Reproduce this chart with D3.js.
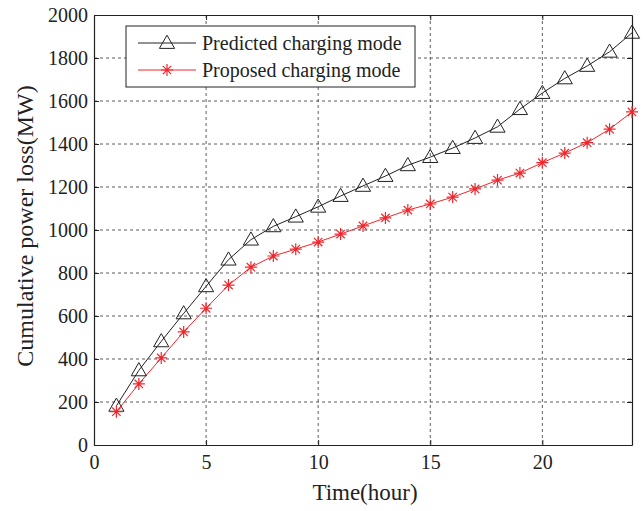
<!DOCTYPE html>
<html lang="en">
<head>
    <meta charset="UTF-8">
    <title>cumulative-power-loss</title>
    <script src="https://cdn.jsdelivr.net/npm/d3@7/dist/d3.min.js"></script>
    <style>
        body { margin: 0; background: #fff; }
        text { font-family: "Liberation Serif", "Times New Roman", serif; fill: #222; }
    </style>
</head>
<body>
    <svg class="chart"></svg>
</body>
<script>
    // data
    var hours = [1, 2, 3, 4, 5, 6, 7, 8, 9, 10, 11, 12, 13, 14, 15, 16, 17, 18, 19, 20, 21, 22, 23, 24];
    var predicted = [182, 347, 482, 612, 738, 862, 955, 1017, 1062, 1108, 1158, 1205, 1251, 1301, 1339, 1381, 1428, 1480, 1562, 1637, 1705, 1763, 1829, 1917];
    var proposed = [155, 284, 405, 526, 636, 744, 827, 879, 911, 944, 981, 1019, 1056, 1093, 1121, 1153, 1191, 1232, 1265, 1313, 1358, 1406, 1469, 1549];
    var xTicks = [0, 5, 10, 15, 20];
    var yTicks = [0, 200, 400, 600, 800, 1000, 1200, 1400, 1600, 1800, 2000];
    var seriesNames = ['Predicted charging mode', 'Proposed charging mode'];

    var width = 643, height = 511;
    // plot box (note: "top" is reserved on window, so use other names)
    var pLeft = 94, pRight = 632, pTop = 15, pBottom = 445;

    var svg = d3.select('.chart')
        .attr('width', width)
        .attr('height', height);

    var x = d3.scaleLinear().domain([0, 24]).range([pLeft, pRight]);
    var y = d3.scaleLinear().domain([0, 2000]).range([pBottom, pTop]);

    // grid
    svg.append('g').selectAll('line')
        .data(xTicks.slice(1))
        .enter().append('line')
        .attr('x1', function (d) { return x(d); })
        .attr('x2', function (d) { return x(d); })
        .attr('y1', pTop).attr('y2', pBottom)
        .attr('stroke', '#333').attr('stroke-width', 0.8)
        .attr('stroke-dasharray', '3,3');
    svg.append('g').selectAll('line')
        .data(yTicks.slice(1, -1))
        .enter().append('line')
        .attr('y1', function (d) { return y(d); })
        .attr('y2', function (d) { return y(d); })
        .attr('x1', pLeft).attr('x2', pRight)
        .attr('stroke', '#333').attr('stroke-width', 0.8)
        .attr('stroke-dasharray', '3,3');

    // axes with inward ticks
    var xAxis = d3.axisBottom(x).tickValues(xTicks).tickSizeInner(-5).tickSizeOuter(0).tickPadding(10);
    var yAxis = d3.axisLeft(y).tickValues(yTicks).tickFormat(d3.format('d'))
        .tickSizeInner(-5).tickSizeOuter(0).tickPadding(6);
    var gx = svg.append('g').attr('transform', 'translate(0,' + pBottom + ')').call(xAxis);
    var gy = svg.append('g').attr('transform', 'translate(' + pLeft + ',0)').call(yAxis);
    svg.append('g').attr('transform', 'translate(0,' + pTop + ')')
        .call(d3.axisTop(x).tickValues(xTicks).tickSizeInner(-5).tickSizeOuter(0).tickFormat(''));
    svg.append('g').attr('transform', 'translate(' + pRight + ',0)')
        .call(d3.axisRight(y).tickValues(yTicks).tickSizeInner(-5).tickSizeOuter(0).tickFormat(''));
    svg.selectAll('.domain').attr('stroke', '#222').attr('stroke-width', 1.2);
    svg.selectAll('.tick line').attr('stroke', '#222');
    gx.selectAll('text').style('font-size', '20px').style('font-family', '"Liberation Serif", serif').attr('fill', '#222');
    gy.selectAll('text').style('font-size', '20px').style('font-family', '"Liberation Serif", serif').attr('fill', '#222');

    // lines
    var line = d3.line()
        .x(function (d) { return x(d[0]); })
        .y(function (d) { return y(d[1]); });
    var predPts = hours.map(function (h, i) { return [h, predicted[i]]; });
    var propPts = hours.map(function (h, i) { return [h, proposed[i]]; });

    svg.append('path').datum(predPts).attr('d', line)
        .attr('fill', 'none').attr('stroke', '#222').attr('stroke-width', 1);
    svg.append('path').datum(propPts).attr('d', line)
        .attr('fill', 'none').attr('stroke', '#f0262c').attr('stroke-width', 1);

    var tri = d3.symbol().type(d3.symbolTriangle).size(100);
    var star = 'M-6,0L6,0M0,-6L0,6M-4.2,-4.2L4.2,4.2M-4.2,4.2L4.2,-4.2';

    svg.append('g').selectAll('path')
        .data(predPts).enter().append('path')
        .attr('d', tri)
        .attr('transform', function (d) { return 'translate(' + x(d[0]) + ',' + (y(d[1]) + 1) + ')'; })
        .attr('fill', 'none').attr('stroke', '#222').attr('stroke-width', 1);
    svg.append('g').selectAll('path')
        .data(propPts).enter().append('path')
        .attr('d', star)
        .attr('transform', function (d) { return 'translate(' + x(d[0]) + ',' + y(d[1]) + ')'; })
        .attr('fill', 'none').attr('stroke', '#f0262c').attr('stroke-width', 1.2);

    // legend
    var lg = svg.append('g');
    lg.append('rect').attr('x', 126).attr('y', 26).attr('width', 289).attr('height', 61)
        .attr('fill', '#fff').attr('stroke', '#222').attr('stroke-width', 1);
    var rows = [
        { name: seriesNames[0], color: '#222', marker: 'tri', yy: 43 },
        { name: seriesNames[1], color: '#f0262c', marker: 'star', yy: 70 }
    ];
    rows.forEach(function (r) {
        lg.append('line').attr('x1', 138).attr('x2', 196).attr('y1', r.yy).attr('y2', r.yy)
            .attr('stroke', r.color).attr('stroke-width', 1);
        lg.append('path')
            .attr('d', r.marker === 'tri' ? tri : star)
            .attr('transform', 'translate(167,' + (r.marker === 'tri' ? r.yy + 1 : r.yy) + ')')
            .attr('fill', 'none').attr('stroke', r.color).attr('stroke-width', r.marker === 'tri' ? 1 : 1.2);
        lg.append('text').attr('x', 202).attr('y', r.yy + 7)
            .style('font-size', '20px').text(r.name);
    });

    // axis titles
    svg.append('text').attr('x', 365).attr('y', 500)
        .attr('text-anchor', 'middle').style('font-size', '23px').text('Time(hour)');
    svg.append('text').attr('transform', 'translate(33,226) rotate(-90)')
        .attr('text-anchor', 'middle').style('font-size', '24px').text('Cumulative power loss(MW)');
</script>
</html>
